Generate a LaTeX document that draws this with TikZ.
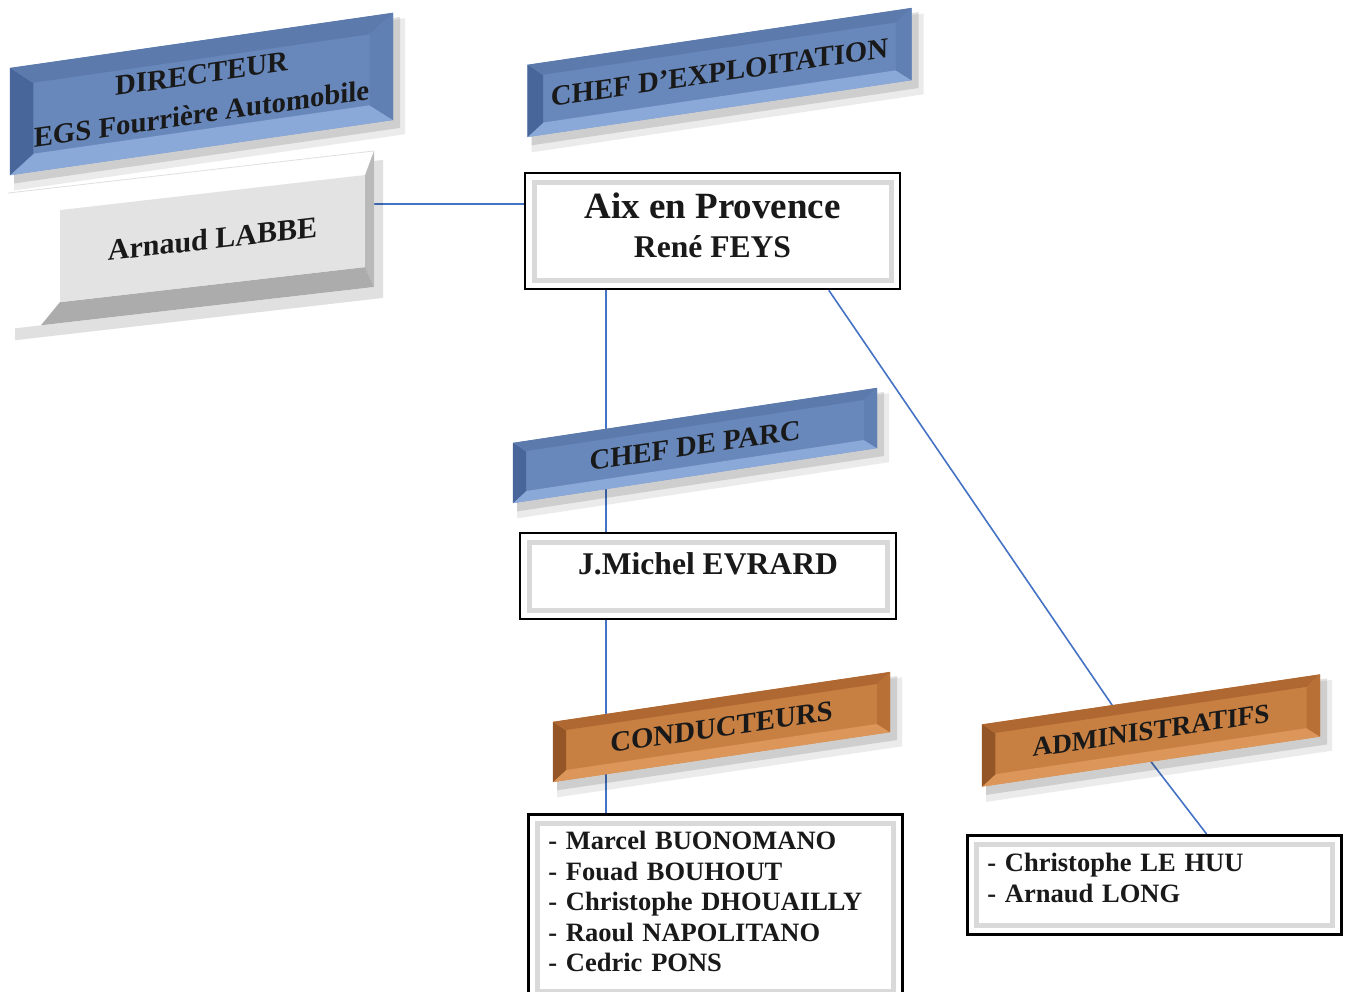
\documentclass[tikz,border=0pt]{standalone}
\usepackage{fontspec}
\setmainfont{Liberation Serif}
\usetikzlibrary{calc,backgrounds}

\definecolor{bluemain}{RGB}{104,136,188}
\definecolor{bluetop}{RGB}{92,122,172}
\definecolor{bluebot}{RGB}{138,168,216}
\definecolor{blueleft}{RGB}{72,102,154}
\definecolor{blueright}{RGB}{96,128,180}
\definecolor{orangemain}{RGB}{200,128,66}
\definecolor{orangetop}{RGB}{176,104,50}
\definecolor{orangebot}{RGB}{220,150,90}
\definecolor{orangeleft}{RGB}{148,86,38}
\definecolor{orangeright}{RGB}{184,112,54}
\definecolor{linkblue}{RGB}{68,114,196}

\tikzset{
  banner/.style={inner sep=0pt, font=\bfseries, text=black!90, align=center},
  namebox/.style={draw=black, line width=2.5pt, fill=white, inner sep=0pt,
    font=\bfseries, text=black!90, align=center,
    path picture={\draw[gray!30, line width=5pt]
      ([shift={(9pt,9pt)}]path picture bounding box.south west) rectangle
      ([shift={(-9pt,-9pt)}]path picture bounding box.north east);}},
  listbox/.style={namebox, align=left, inner xsep=20pt,
    font=\bfseries\fontsize{26.5}{30.5}\selectfont},
  link/.style={draw=linkblue, line width=1.6pt},
}

% name, centre, width, height, slant, colour, font size, text
\newcommand{\bevelbanner}[8]{%
  \begin{scope}[shift={#2}, yslant=#5, transform shape]
    \fill[black, opacity=.08] (-#3/2+4, -#4/2+7) rectangle (#3/2+12, #4/2+16);
    \fill[black, opacity=.12] (-#3/2+4, -#4/2+5) rectangle (#3/2+7, #4/2+9);
    \node[banner, fill=#6main, minimum width=#3pt, minimum height=#4pt,
      font=\bfseries\fontsize{#7}{40}\selectfont] (#1) at (0,0) {#8};
    \fill[#6top] (#1.north west) -- (#1.north east) -- ++({-0.22*#4},{0.17*#4})
      -- ++({-(#3-0.44*#4)},0) -- cycle;
    \fill[#6bot] (#1.south west) -- (#1.south east) -- ++({-0.22*#4},{-0.17*#4})
      -- ++({-(#3-0.44*#4)},0) -- cycle;
    \fill[#6left] (#1.north west) -- (#1.south west) -- ++({0.22*#4},{-0.17*#4})
      -- ++(0,{-(#4-0.34*#4)}) -- cycle;
    \fill[#6right] (#1.north east) -- (#1.south east) -- ++({-0.22*#4},{-0.17*#4})
      -- ++(0,{-(#4-0.34*#4)}) -- cycle;
  \end{scope}}

\begin{document}
\begin{tikzpicture}[x=1pt, y=-1pt]
\useasboundingbox (0,0) rectangle (1348,991);

% directeur
\bevelbanner{director}{(201.5,94)}{383}{107}{0.144}{blue}{28.8}{DIRECTEUR\\EGS Fourrière Automobile}

\begin{scope}[shift={(191,240)}, yslant=0.115, transform shape]
  \fill[black, opacity=.12] (-176,-58) rectangle (192,80);
  \fill[white] (-183,-68) rectangle (183,68);
  \draw[gray!25, line width=.8pt] (-183,-68) -- (183,-68);
  \node[banner, fill=gray!22, minimum width=305pt, minimum height=92pt,
    font=\bfseries\fontsize{30}{34}\selectfont] (labbe) at (21.5,1) {Arnaud LABBE};
  \fill[gray!55] (labbe.north east) -- (183,-68) -- (183,68) -- (labbe.south east) -- cycle;
  \fill[gray!65] (labbe.south west) -- (labbe.south east) -- (183,68) -- (-150,68) -- cycle;
\end{scope}

% exploitation
\bevelbanner{exploit}{(719.5,72.5)}{384}{72}{0.148}{blue}{28.8}{CHEF D’EXPLOITATION}

\node[namebox, minimum width=375pt, minimum height=116pt, text depth=12pt,
  font=\bfseries\fontsize{31.6}{39}\selectfont] (aix) at (712.5,231)
  {{\fontsize{37}{39}\selectfont Aix en Provence}\\René FEYS};

% parc
\bevelbanner{parc}{(695,445.5)}{364}{60}{0.151}{blue}{28.6}{CHEF DE PARC}

\node[namebox, minimum width=376pt, minimum height=86pt, text height=22pt, text depth=25pt,
  font=\bfseries\fontsize{31.6}{36}\selectfont] (evrard) at (708,576) {J.Michel EVRARD};

\bevelbanner{cond}{(721.5,727)}{337}{60}{0.148}{orange}{28.8}{CONDUCTEURS}
\bevelbanner{admin}{(1151,730.5)}{338}{62}{0.148}{orange}{27.2}{ADMINISTRATIFS}

\node[listbox, anchor=north west, minimum width=374pt, inner ysep=17pt, text depth=134pt, text width=334pt]
  (condlist) at (527,813) {- Marcel BUONOMANO\\- Fouad BOUHOUT\\- Christophe DHOUAILLY\\- Raoul NAPOLITANO\\- Cedric PONS};
\node[listbox, anchor=north west, minimum width=374pt, inner ysep=18pt, text depth=45pt, text width=334pt]
  (adminlist) at (966,834) {- Christophe LE HUU\\- Arnaud LONG};

\begin{pgfonlayer}{background}
  \coordinate (spine) at (606,0);
  \draw[link] ([yshift=27pt]aix.west) -- ([yshift=27pt]aix.west -| labbe.east);
  \draw[link] (aix.south -| spine) -- (parc.center -| spine);
  \draw[link] (parc.center -| spine) -- (evrard.north -| spine);
  \draw[link] (evrard.south -| spine) -- (cond.center -| spine);
  \draw[link] (cond.center -| spine) -- (condlist.north -| spine);
  \draw[link] ($(aix.south west)!0.808!(aix.south east)$) -- ($(admin.north west)!0.385!(admin.north east)$);
  \draw[link] (admin.south) -- ($(adminlist.north west)!0.639!(adminlist.north east)$);
\end{pgfonlayer}
\end{tikzpicture}
\end{document}
